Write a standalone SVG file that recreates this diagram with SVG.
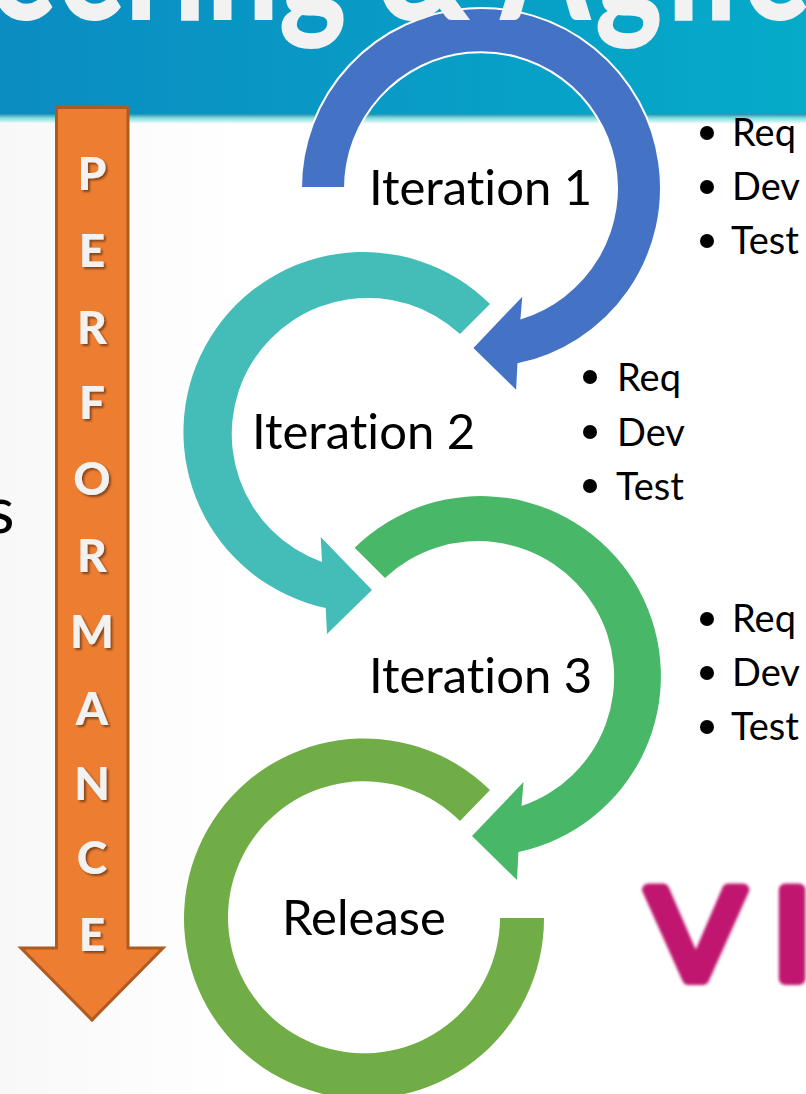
<svg xmlns="http://www.w3.org/2000/svg" width="806" height="1094" viewBox="0 0 806 1094">
<style>
text{font-variant-ligatures:none}
.lbl{font-family:"Lato","Open Sans",sans-serif;font-size:49px;fill:#000}
.itm{font-family:"Lato","Open Sans",sans-serif;font-size:38px;fill:#000}
.ltr{font-family:"Lato","Open Sans",sans-serif;font-size:46px;font-weight:900;fill:#f2f2f2;text-anchor:middle;filter:url(#sh)}
</style>
<defs>
<linearGradient id="hdr" x1="0" x2="1" y1="0" y2="0"><stop offset="0" stop-color="#0b8cc2"/><stop offset="1" stop-color="#05abc9"/></linearGradient>
<linearGradient id="bg" x1="0" x2="1" y1="0" y2="0"><stop offset="0" stop-color="#f8f8f8"/><stop offset="0.3" stop-color="#ffffff"/></linearGradient>
<linearGradient id="edge" x1="0" x2="0" y1="0" y2="1"><stop offset="0" stop-color="#2a8ea6"/><stop offset="0.4" stop-color="#7fdde0"/><stop offset="1" stop-color="#ffffff"/></linearGradient>
<filter id="sh" x="-30%" y="-30%" width="170%" height="170%"><feDropShadow dx="2" dy="2" stdDeviation="1" flood-color="#000" flood-opacity="0.45"/></filter>
<filter id="blur" x="-10%" y="-10%" width="120%" height="130%"><feGaussianBlur stdDeviation="1.4"/></filter>
</defs>
<rect width="806" height="1094" fill="url(#bg)"/>
<rect width="806" height="116" fill="url(#hdr)"/>
<rect y="114" width="806" height="10" fill="url(#edge)"/>
<text x="-14" y="533" font-family="Lato,'Open Sans',sans-serif" font-size="66" fill="#000">s</text>
<g id="performance"><path d="M56.500 107.500H128V948H163L92 1020L21 948H56.500Z" fill="#ed7d31" stroke="#ae5a21" stroke-width="3"/>
<text class="ltr" x="92" y="190">P</text><text class="ltr" x="92" y="267">E</text><text class="ltr" x="92" y="344">R</text><text class="ltr" x="92" y="419">F</text><text class="ltr" x="92" y="495">O</text><text class="ltr" x="92" y="572">R</text><text class="ltr" x="92" y="648">M</text><text class="ltr" x="92" y="725">A</text><text class="ltr" x="92" y="800">N</text><text class="ltr" x="92" y="874">C</text><text class="ltr" x="92" y="951">E</text></g>
<g id="connectors">
<path id="arc1" d="M301 188A180 180 0 1 1 518.400 364.100L517 392L472 348L523.500 294L521.500 318A136 136 0 1 0 345 188Z" fill="#4472c4" stroke="#fff" stroke-width="2"/>
<path id="arc2" d="M490 304A180 180 0 1 0 325.700 608L327 634L372 590L320.700 537L322 562A136 136 0 1 1 460 334Z" fill="#44bdb8"/>
<path id="arc3" d="M354.700 547.700A180 180 0 1 1 518.400 852.100L517 880L472 836L523.500 782L521.500 806A136 136 0 1 0 385 578Z" fill="#48b768"/>
<path id="arc4" d="M490 790A180 180 0 1 0 544 918H500A136 136 0 1 1 460 821Z" fill="#70ad47"/>
</g>
<text transform="translate(-12,20) scale(0.9,1.15)" font-family="Lato,'Open Sans',sans-serif" font-weight="900" font-size="142" fill="#f2f2f2">eering &amp; <tspan letter-spacing="5">Agile</tspan></text>
<g id="iteration1"><text class="lbl" x="369" y="205">Iteration 1</text>
<circle cx="707" cy="133" r="7"/><text class="itm" x="732" y="146">Req</text>
<circle cx="707" cy="187" r="7"/><text class="itm" x="732" y="200">Dev</text>
<circle cx="707" cy="241" r="7"/><text class="itm" x="731" y="254">Test</text></g>
<g id="iteration2"><text class="lbl" x="252" y="449">Iteration 2</text>
<circle cx="590" cy="377" r="7"/><text class="itm" x="617" y="391">Req</text>
<circle cx="590" cy="432" r="7"/><text class="itm" x="617" y="446">Dev</text>
<circle cx="590" cy="486" r="7"/><text class="itm" x="616" y="500">Test</text></g>
<g id="iteration3"><text class="lbl" x="369" y="693">Iteration 3</text>
<circle cx="707" cy="619" r="7"/><text class="itm" x="732" y="632">Req</text>
<circle cx="707" cy="673" r="7"/><text class="itm" x="732" y="686">Dev</text>
<circle cx="707" cy="727" r="7"/><text class="itm" x="731" y="740">Test</text></g>
<g id="release"><text class="lbl" x="282" y="935">Release</text></g>
<text id="logo" transform="translate(648,979) scale(1.1,1)" x="0 113" y="0" font-family="'Liberation Sans',sans-serif" font-size="130" fill="#c0186f" stroke="#c0186f" stroke-width="12" stroke-linejoin="round" filter="url(#blur)">VI</text>
</svg>
